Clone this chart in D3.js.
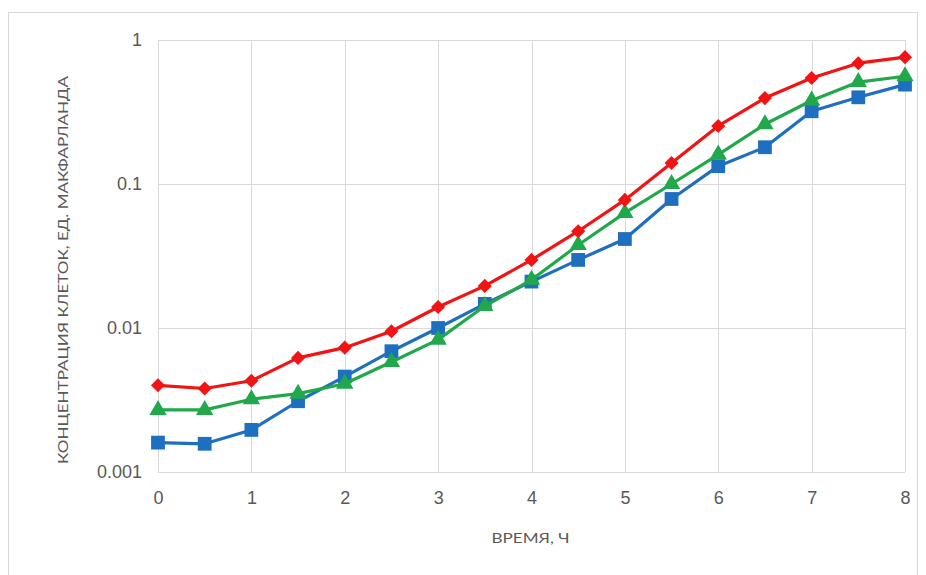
<!DOCTYPE html>
<html>
<head>
<meta charset="utf-8">
<script src="https://cdn.jsdelivr.net/npm/d3@7"></script>
<style>
  body { margin: 0; background: #fff; }
  svg { display: block; font-family: Lato, "Open Sans", sans-serif; }
  .tick text { fill: #595959; font-size: 18px; }
  .axis-title { fill: #595959; font-size: 14px; }
</style>
</head>
<body>
<svg width="926" height="575"></svg>
<script>
// time, hours
const hours = [0, 0.5, 1, 1.5, 2, 2.5, 3, 3.5, 4, 4.5, 5, 5.5, 6, 6.5, 7, 7.5, 8]

// cell concentration, McFarland units
const redValues = [0.0040, 0.0038, 0.0043, 0.0062, 0.0073, 0.0095, 0.014, 0.0196, 0.0297, 0.047, 0.0775, 0.14, 0.253, 0.395, 0.545, 0.69, 0.76]
const greenValues = [0.0027, 0.0027, 0.0032, 0.0035, 0.0041, 0.0058, 0.0083, 0.0142, 0.0216, 0.0377, 0.063, 0.10, 0.16, 0.26, 0.38, 0.51, 0.56]
const blueValues = [0.0016, 0.00157, 0.00196, 0.0031, 0.0046, 0.0069, 0.0100, 0.0147, 0.021, 0.0297, 0.0415, 0.0787, 0.133, 0.18, 0.32, 0.40, 0.49]

const xTicks = [0, 1, 2, 3, 4, 5, 6, 7, 8]
const yTicks = [0.001, 0.01, 0.1, 1]

const series = [
  { name: 'blue', values: blueValues, color: '#1f6fc0', symbol: d3.symbolSquare, size: 190, rotate: 0 },
  { name: 'green', values: greenValues, color: '#21a84a', symbol: d3.symbolTriangle, size: 130, rotate: 0 },
  { name: 'red', values: redValues, color: '#f01414', symbol: d3.symbolSquare, size: 100, rotate: 45 }
]

const margin = { left: 158, right: 21, top: 40, bottom: 103 }
const svg = d3.select('svg')
const W = +svg.attr('width'), H = +svg.attr('height')
const w = W - margin.left - margin.right
const h = H - margin.top - margin.bottom

// Outer chart border
svg.append('rect')
  .attr('x', 8.5).attr('y', 12.5)
  .attr('width', 909).attr('height', 600)
  .attr('fill', 'none')
  .attr('stroke', '#d9d9d9')

const x = d3.scaleLinear().domain([0, 8]).range([0, w])
const y = d3.scaleLog().domain([0.001, 1]).range([h, 0])

const g = svg.append('g').attr('transform', `translate(${margin.left},${margin.top})`)

// gridlines
g.append('g').selectAll('line')
  .data(yTicks).enter().append('line')
  .attr('x1', 0).attr('x2', w)
  .attr('y1', d => Math.round(y(d)) + 0.5).attr('y2', d => Math.round(y(d)) + 0.5)
  .attr('stroke', '#d9d9d9')
g.append('g').selectAll('line')
  .data(xTicks).enter().append('line')
  .attr('y1', 0).attr('y2', h)
  .attr('x1', d => Math.round(x(d)) + 0.5).attr('x2', d => Math.round(x(d)) + 0.5)
  .attr('stroke', '#d9d9d9')

// axes (text only)
const xAxis = g.append('g')
  .attr('transform', `translate(0,${h})`)
  .call(d3.axisBottom(x).tickValues(xTicks).tickSize(0).tickPadding(19).tickFormat(d3.format('d')))
xAxis.select('.domain').remove()

const yAxis = g.append('g')
  .call(d3.axisLeft(y).tickValues(yTicks).tickSize(0).tickPadding(16).tickFormat(d => String(d)))
yAxis.select('.domain').remove()

// lines and markers
const line = d3.line()
  .x((d, i) => x(hours[i]))
  .y(d => y(d))

series.forEach(s => {
  g.append('path')
    .datum(s.values)
    .attr('fill', 'none')
    .attr('stroke', s.color)
    .attr('stroke-width', 3.2)
    .attr('stroke-linejoin', 'round')
    .attr('d', line)

  g.append('g').selectAll('path')
    .data(s.values).enter().append('path')
    .attr('transform', (d, i) => `translate(${x(hours[i])},${y(d)}) rotate(${s.rotate})`)
    .attr('d', d3.symbol().type(s.symbol).size(s.size))
    .attr('fill', s.color)
})

// axis titles
svg.append('text')
  .attr('class', 'axis-title')
  .attr('x', margin.left + w / 2 - 1)
  .attr('y', 543)
  .attr('text-anchor', 'middle')
  .attr('textLength', 78)
  .attr('lengthAdjust', 'spacingAndGlyphs')
  .text('ВРЕМЯ, Ч')

svg.append('text')
  .attr('class', 'axis-title')
  .attr('transform', `translate(68,${margin.top + h / 2 + 14}) rotate(-90)`)
  .attr('text-anchor', 'middle')
  .attr('textLength', 388)
  .attr('lengthAdjust', 'spacingAndGlyphs')
  .text('КОНЦЕНТРАЦИЯ КЛЕТОК, ЕД. МАКФАРЛАНДА')
</script>
</body>
</html>
